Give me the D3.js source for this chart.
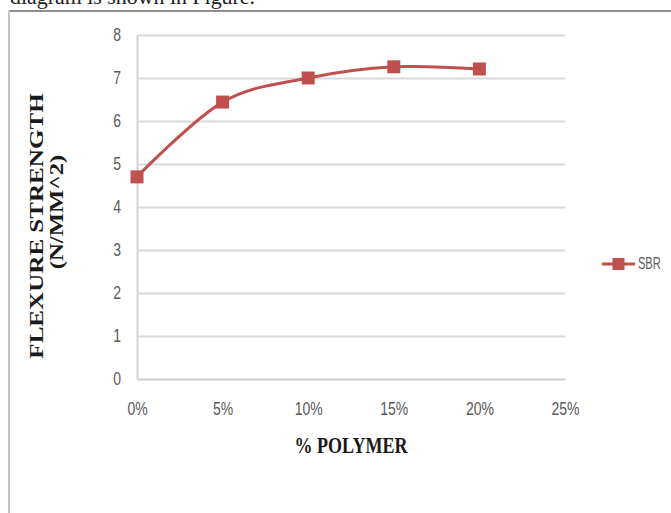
<!DOCTYPE html>
<html lang="en">
<head>
    <meta charset="UTF-8">
    <title>Flexure Strength vs Polymer</title>
    <style>
        html, body {
            margin: 0;
            padding: 0;
            background: #fff;
        }
        svg {
            display: block;
        }
        .tick-label {
            font-family: "Liberation Sans", Arial, sans-serif;
            font-size: 14px;
            fill: #5a5a5a;
        }
        .axis-title {
            font-family: "Liberation Serif", "Times New Roman", serif;
            font-weight: bold;
            fill: #1a1a1a;
        }
    </style>
</head>
<body>
    <div id="wrapper"></div>

    <script src="https://d3js.org/d3.v7.min.js"></script>
    <script>
        // data
        const polymerPct = [0, 5, 10, 15, 20];
        const sbrValues = [4.7, 6.44, 7.0, 7.26, 7.21];
        const xTicks = [0, 5, 10, 15, 20, 25];
        const yTicks = [0, 1, 2, 3, 4, 5, 6, 7, 8];
        const seriesName = 'SBR';

        const width = 671,
            height = 513;
        const plot = { left: 137, right: 565, top: 35, bottom: 379 };
        const red = '#c0504d';

        const svg = d3.select('#wrapper').append('svg')
            .attr('width', width)
            .attr('height', height);

        // text above the figure, cut off by the crop
        svg.append('text')
            .attr('x', 10)
            .attr('y', 4)
            .attr('textLength', 245)
            .attr('lengthAdjust', 'spacingAndGlyphs')
            .style('font-family', '"Liberation Serif", serif')
            .style('font-size', '22px')
            .style('fill', '#222')
            .text('diagram is shown in Figure.');

        // frame of the chart area
        svg.append('line')
            .attr('x1', 8).attr('x2', width)
            .attr('y1', 11).attr('y2', 11)
            .attr('stroke', '#8f8f8f').attr('stroke-width', 2);
        svg.append('line')
            .attr('x1', 9).attr('x2', 9)
            .attr('y1', 10).attr('y2', height)
            .attr('stroke', '#c4c4c4').attr('stroke-width', 2);

        // scales
        const xScale = d3.scaleLinear()
            .domain([0, 25])
            .range([plot.left, plot.right]);
        const yScale = d3.scaleLinear()
            .domain([0, 8])
            .range([plot.bottom, plot.top]);

        // grid lines through the y axis
        const yAxis = d3.axisLeft(yScale)
            .tickValues(yTicks)
            .tickSizeInner(-(plot.right - plot.left))
            .tickSizeOuter(0)
            .tickFormat('');
        const yAxisG = svg.append('g')
            .attr('transform', `translate(${plot.left},0)`)
            .call(yAxis);
        yAxisG.selectAll('.tick line')
            .attr('stroke', '#d9d9d9')
            .attr('stroke-width', 2);
        yAxisG.select('.domain')
            .attr('stroke', '#d4d4d4')
            .attr('stroke-width', 2);

        // y tick labels (stretched a bit taller like the source)
        yAxisG.selectAll('.tick')
            .append('text')
            .attr('class', 'tick-label')
            .attr('text-anchor', 'end')
            .attr('transform', 'translate(-16,5) scale(1,1.3)')
            .text(d => d);

        // x axis
        const xAxis = d3.axisBottom(xScale)
            .tickValues(xTicks)
            .tickSize(0)
            .tickFormat('');
        const xAxisG = svg.append('g')
            .attr('transform', `translate(0,${plot.bottom})`)
            .call(xAxis);
        xAxisG.select('.domain')
            .attr('stroke', '#d4d4d4')
            .attr('stroke-width', 2);
        xAxisG.selectAll('.tick')
            .append('text')
            .attr('class', 'tick-label')
            .attr('text-anchor', 'middle')
            .attr('transform', 'translate(0,36) scale(1,1.3)')
            .text(d => d + '%');

        // axis titles
        svg.append('text')
            .attr('class', 'axis-title')
            .attr('text-anchor', 'middle')
            .attr('transform', 'translate(351,453) scale(1,1.25)')
            .style('font-size', '18px')
            .text('% POLYMER');

        svg.append('text')
            .attr('class', 'axis-title')
            .attr('text-anchor', 'middle')
            .attr('transform', 'translate(43,226) rotate(-90) scale(1.32,1)')
            .style('font-size', '19px')
            .text('FLEXURE STRENGTH');
        svg.append('text')
            .attr('class', 'axis-title')
            .attr('text-anchor', 'middle')
            .attr('transform', 'translate(63,212) rotate(-90) scale(1.3,1)')
            .style('font-size', '19px')
            .text('(N/MM^2)');

        // smoothed line + square markers
        const points = polymerPct.map((p, i) => ({ x: p, y: sbrValues[i] }));

        const lineGen = d3.line()
            .x(d => xScale(d.x))
            .y(d => yScale(d.y))
            .curve(d3.curveCardinal.tension(0));

        svg.append('path')
            .attr('d', lineGen(points))
            .attr('fill', 'none')
            .attr('stroke', red)
            .attr('stroke-width', 3);

        const m = 13;
        svg.selectAll('.dot')
            .data(points)
            .join('rect')
            .attr('class', 'dot')
            .attr('x', d => xScale(d.x) - m / 2)
            .attr('y', d => yScale(d.y) - m / 2)
            .attr('width', m)
            .attr('height', m)
            .attr('fill', red);

        // legend
        const legend = svg.append('g')
            .attr('transform', 'translate(602,264)');
        legend.append('line')
            .attr('x1', 0).attr('x2', 33)
            .attr('y1', 0).attr('y2', 0)
            .attr('stroke', red).attr('stroke-width', 3);
        legend.append('rect')
            .attr('x', 16.5 - 6).attr('y', -6)
            .attr('width', 12).attr('height', 12)
            .attr('fill', red);
        legend.append('text')
            .attr('class', 'tick-label')
            .attr('transform', 'translate(36,5) scale(0.85,1.3)')
            .style('font-size', '13px')
            .text(seriesName);
    </script>
</body>
</html>
